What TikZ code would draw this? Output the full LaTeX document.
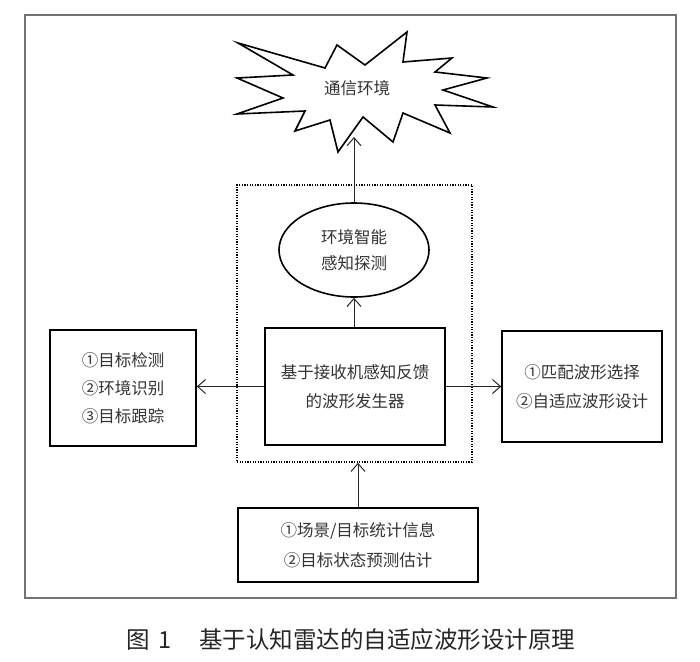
\documentclass[tikz,border=0pt]{standalone}
\usepackage{fontspec}
\setmainfont{Noto Sans CJK SC}
\usetikzlibrary{arrows.meta,shapes.geometric}
\begin{document}
\begin{tikzpicture}[x=1pt,y=-1pt,
  txt/.style={text=black!80,font=\fontsize{16.5}{28}\selectfont,align=center},
  box/.style={draw=black,line width=1.6pt,inner sep=0pt,txt},
  arr/.style={-{Straight Barb[length=8pt,width=14pt]},line width=1pt,draw=black!85},
  dotbox/.style={draw=black,line width=1.5pt,dash pattern=on 1.2pt off 1.4pt,inner sep=0pt}]
\useasboundingbox (0,0) rectangle (700,661);
% outer frame
\draw[draw=black!55,line width=1.3pt] (25,15) rectangle (676,598);
% starburst
\draw[line width=1.6pt,line join=miter,fill=white]
  (238,43) -- (325,68) -- (337,45) -- (365,65) -- (407,32) -- (403,62) -- (452,58)
  -- (435,72) -- (487,78) -- (443,90) -- (493,107) -- (435,105) -- (450,133)
  -- (403,113) -- (393,142) -- (363,117) -- (338,152) -- (330,120) -- (295,131)
  -- (305,111) -- (237,114) -- (283,98) -- (237,78) -- (293,75) -- cycle;
\node[txt] (env) at (357,88) {通信环境};
\coordinate (envb) at (354,137);
% dotted box
\node[dotbox,minimum width=235pt,minimum height=277pt] (dot) at (354.5,323.5) {};
% ellipse
\node[ellipse,draw=black,line width=1.6pt,minimum width=150pt,minimum height=94pt,inner sep=0pt,txt,font=\fontsize{16.5}{26}\selectfont] (sense) at (354,250) {环境智能\\感知探测};
% center box
\node[box,minimum width=180pt,minimum height=117pt,font=\fontsize{16.5}{29}\selectfont] (gen) at (355,386.5) {基于接收机感知反馈\\的波形发生器};
% left box
\node[box,minimum width=146pt,minimum height=116pt] (left) at (123,388) {①目标检测\\②环境识别\\③目标跟踪};
% right box
\node[box,minimum width=160pt,minimum height=111pt,font=\fontsize{16.5}{29}\selectfont] (right) at (582,386.5) {①匹配波形选择\\②自适应波形设计};
% bottom box
\node[box,minimum width=240pt,minimum height=74pt,font=\fontsize{16.5}{30}\selectfont] (bot) at (358,545) {①场景/目标统计信息\\②目标状态预测估计};
% arrows
\draw[arr] (sense.north) -- (envb);
\draw[arr] (gen.north -| sense.south) -- (sense.south);
\draw[arr] (gen.west) -- (gen.west -| left.east);
\draw[arr] (gen.east) -- (gen.east -| right.west);
\draw[arr] (bot.north) -- (bot.north |- dot.south);
% caption
\node[text=black!85,font=\fontsize{23.5}{28}\selectfont] (cap) at (351,640) {图\hspace{8pt}1\hspace{28pt}基于认知雷达的自适应波形设计原理};
\end{tikzpicture}
\end{document}
